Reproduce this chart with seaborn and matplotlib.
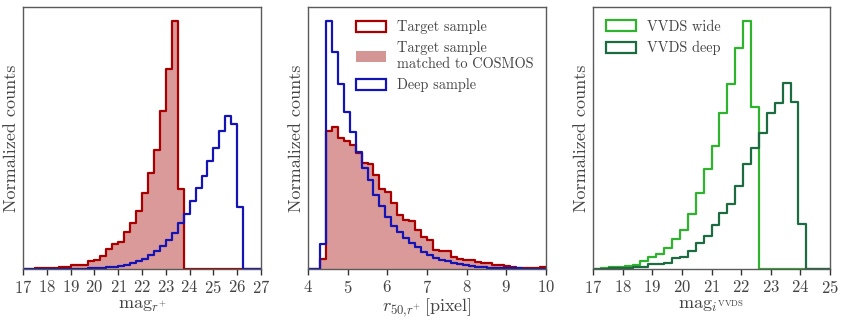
import numpy as np
import matplotlib
matplotlib.use("Agg")
import matplotlib.pyplot as plt
import seaborn as sns
from matplotlib.patches import Patch

# ---------------- data (bin heights) ----------------
# Panel 1: magnitude r+, 40 bins between 17 and 27
mag_r_range = (17.0, 27.0)
mag_r_nbins = 40
target_mag = [0.3, 0.5, 0.8, 1.0, 1.2, 1.5, 2.0, 2.5, 4.3, 4.0, 4.5, 7.8, 9.7, 13.7,
              20.5, 25.5, 27.5, 37.0, 46.5, 58.5, 76.0, 96.7, 119.3, 158.3, 200.3,
              248.7, 80.0, 0, 0, 0, 0, 0, 0, 0, 0, 0, 0, 0, 0, 0]
cosmos_mag = [0.3, 0.5, 0.8, 1.0, 1.2, 1.5, 2.0, 2.5, 4.3, 4.0, 4.5, 7.8, 9.7, 13.7,
              20.5, 25.5, 27.5, 37.0, 46.5, 58.5, 76.0, 96.7, 119.3, 158.3, 200.3,
              248.7, 80.0, 0, 0, 0, 0, 0, 0, 0, 0, 0, 0, 0, 0, 0]
deep_mag = [0.2, 0.2, 0.2, 0.3, 0.3, 0.3, 0.4, 0.4, 0.5, 0.5, 0.6, 0.8, 1.0, 1.3,
            2.0, 2.7, 3.3, 4.3, 6.0, 8.3, 10.7, 14.3, 18.5, 23.3, 29.3, 36.0, 46.0,
            55.5, 68.3, 81.7, 93.3, 108.0, 121.5, 138.3, 153.3, 145.3, 62.7, 0, 0, 0]

# Panel 2: half-light radius r50 [pixel], 40 bins between 4 and 10
r50_range = (4.0, 10.0)
r50_nbins = 40
target_r50 = [0, 0, 10.0, 138.3, 142.7, 131.0, 128.0, 124.0, 116.0, 106.0, 105.0,
              94.3, 80.3, 77.0, 66.0, 54.0, 49.3, 48.3, 39.0, 32.5, 29.3, 19.3, 18.3,
              18.3, 12.7, 10.0, 9.3, 9.3, 7.7, 6.0, 6.0, 4.0, 4.0, 3.3, 2.7, 1.7, 1.0,
              1.0, 1.7, 2.7]
cosmos_r50 = [0, 0, 10.0, 138.3, 142.7, 131.0, 128.0, 124.0, 116.0, 106.0, 105.0,
              94.3, 80.3, 77.0, 66.0, 54.0, 49.3, 48.3, 39.0, 32.5, 29.3, 19.3, 18.3,
              18.3, 12.7, 10.0, 9.3, 9.3, 7.7, 6.0, 6.0, 4.0, 4.0, 3.3, 2.7, 1.7, 1.0,
              1.0, 1.7, 2.7]
deep_r50 = [0, 0, 25.0, 248.7, 217.0, 185.0, 157.7, 137.7, 117.7, 101.0, 89.3, 74.3,
            63.7, 52.7, 43.3, 37.7, 31.0, 26.0, 22.7, 17.7, 14.5, 11.0, 9.3, 8.3, 6.7,
            5.3, 4.7, 3.3, 2.7, 2.0, 1.7, 1.3, 1.2, 1.0, 1.0, 0.8, 0.7, 0.7, 0.6, 0.6]

# Panel 3: VVDS i magnitude, 30 bins between 17 and 25
mag_i_range = (17.0, 25.0)
mag_i_nbins = 30
vvds_wide = [0.3, 1.0, 2.0, 2.7, 3.3, 4.3, 8.3, 12.7, 15.7, 21.7, 30.3, 39.7, 55.7,
             76.0, 100.0, 123.7, 156.7, 185.0, 221.0, 248.7, 162.7, 0, 0, 0, 0, 0, 0,
             0, 0, 0]
vvds_deep = [0.3, 0.7, 1.0, 1.3, 1.3, 2.7, 2.7, 5.0, 5.0, 6.7, 11.0, 12.0, 18.7, 26.0,
             33.7, 44.3, 56.7, 65.0, 83.7, 105.3, 121.3, 136.7, 156.0, 166.0, 186.0,
             167.0, 45.3, 0, 0, 0]

labels_p2 = ["Target sample", "Target sample\nmatched to COSMOS", "Deep sample"]
labels_p3 = ["VVDS wide", "VVDS deep"]

# ---------------- style ----------------
RED = "#a80000"
RED_FILL = "#b02020"
BLUE = "#1414b4"
LGREEN = "#2fb32f"
DGREEN = "#1d6b40"
TXT = "#444444"
SPINE = "#5a5a5a"

sns.set_theme(style="ticks")
plt.rcParams.update({
    "font.family": ["cmr10", "DejaVu Serif"],
    "mathtext.fontset": "cm",
    "axes.formatter.use_mathtext": True,
    "axes.unicode_minus": False,
    "text.color": TXT,
    "axes.labelcolor": TXT,
    "xtick.color": TXT,
    "ytick.color": TXT,
})

fig = plt.figure(figsize=(8.42, 3.21), dpi=100)
W, H = 842.0, 321.0
bottom = (H - 269.3) / H
height = (269.3 - 7.2) / H
ax1 = fig.add_axes([23 / W, bottom, 238 / W, height])
ax2 = fig.add_axes([308 / W, bottom, 238 / W, height])
ax3 = fig.add_axes([593 / W, bottom, 237 / W, height])


def draw_hist(ax, rng, nbins, values, filled=False, **kw):
    width = (rng[1] - rng[0]) / nbins
    centers = rng[0] + width * (np.arange(nbins) + 0.5)
    w = np.asarray(values, dtype=float)
    sns.histplot(x=centers, weights=w, bins=nbins, binrange=rng, ax=ax,
                 element="step", fill=filled, **kw)


def style_axes(ax, xlim, xticks, xlabel, labelpad=2):
    ax.set_xlim(*xlim)
    ax.set_ylim(0, 262)
    ax.set_xticks(list(xticks))
    ax.set_yticks([])
    ax.set_xlabel(xlabel, fontsize=13, labelpad=labelpad)
    ax.set_ylabel("Normalized counts", fontsize=13, labelpad=3)
    ax.tick_params(axis="x", direction="out", length=4, width=1,
                   labelsize=12, pad=3, color="#333333")
    for s in ax.spines.values():
        s.set_color(SPINE)
        s.set_linewidth(1.0)
        s.set_visible(True)


leg_kw = dict(frameon=False, fontsize=10.3, handlelength=2.1, handleheight=0.8,
              labelspacing=0.5, handletextpad=0.75, borderaxespad=0.5,
              labelcolor=TXT)

# Panel 1
draw_hist(ax1, mag_r_range, mag_r_nbins, cosmos_mag, filled=True,
          color=RED_FILL, alpha=0.45, linewidth=0)
draw_hist(ax1, mag_r_range, mag_r_nbins, target_mag, color=RED, linewidth=1.6)
draw_hist(ax1, mag_r_range, mag_r_nbins, deep_mag, color=BLUE, linewidth=1.6)
style_axes(ax1, mag_r_range, range(17, 28), r"$\mathrm{mag}_{r^{+}}$")

# Panel 2
draw_hist(ax2, r50_range, r50_nbins, cosmos_r50, filled=True,
          color=RED_FILL, alpha=0.45, linewidth=0)
draw_hist(ax2, r50_range, r50_nbins, target_r50, color=RED, linewidth=1.6)
draw_hist(ax2, r50_range, r50_nbins, deep_r50, color=BLUE, linewidth=1.6)
style_axes(ax2, r50_range, range(4, 11), r"$r_{50{,}r^{+}}\,[\mathrm{pixel}]$",
           labelpad=0)
h2 = [Patch(facecolor="none", edgecolor=RED, linewidth=1.6),
      Patch(facecolor="#d49595", edgecolor="none"),
      Patch(facecolor="none", edgecolor=BLUE, linewidth=1.6)]
ax2.legend(h2, labels_p2, loc="upper right", **leg_kw)

# Panel 3
draw_hist(ax3, mag_i_range, mag_i_nbins, vvds_wide, color=LGREEN, linewidth=1.6)
draw_hist(ax3, mag_i_range, mag_i_nbins, vvds_deep, color=DGREEN, linewidth=1.6)
style_axes(ax3, mag_i_range, range(17, 26), r"$\mathrm{mag}_{i^{\mathrm{VVDS}}}$")
h3 = [Patch(facecolor="none", edgecolor=LGREEN, linewidth=1.6),
      Patch(facecolor="none", edgecolor=DGREEN, linewidth=1.6)]
ax3.legend(h3, labels_p3, loc="upper left", **leg_kw)

fig.savefig("out.png", dpi=100)
